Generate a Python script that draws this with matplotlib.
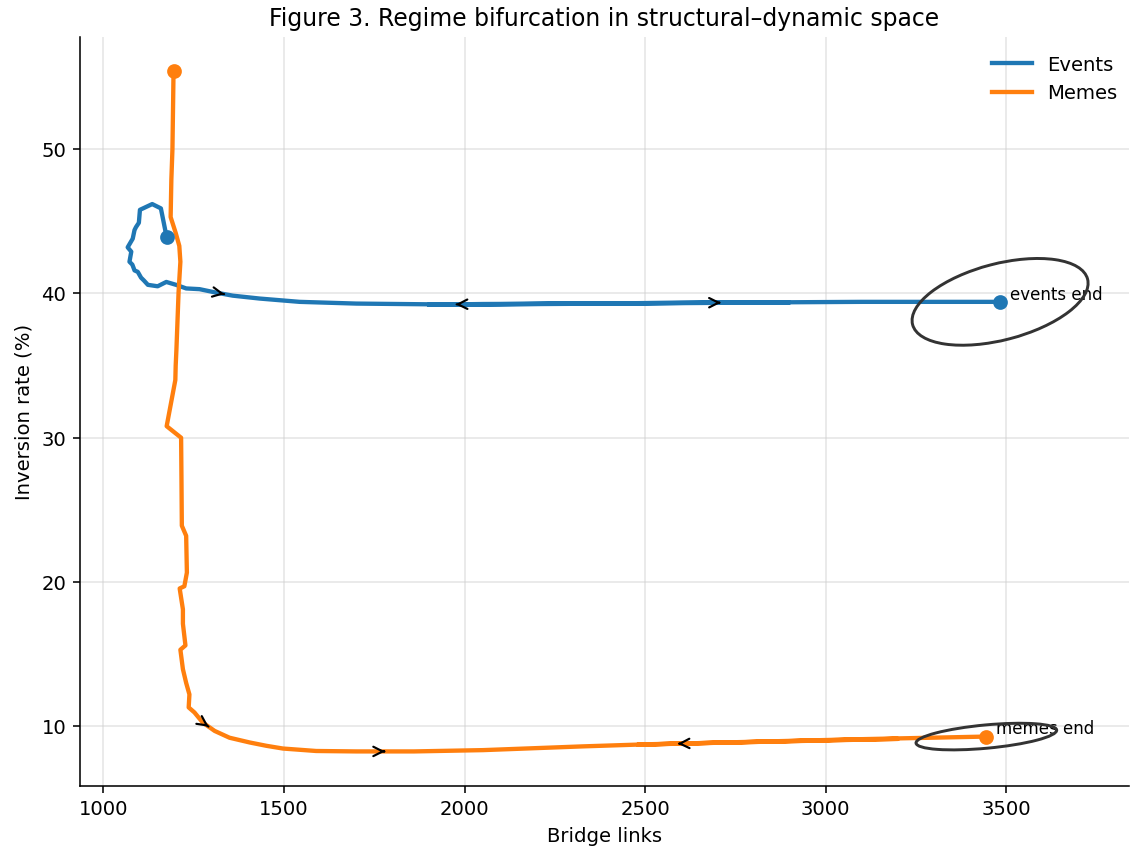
import matplotlib
matplotlib.use("Agg")
import matplotlib.pyplot as plt
from matplotlib.patches import Ellipse
from matplotlib import transforms

# trajectories in (bridge links, inversion rate %) space
events_x = [1175, 1159, 1135, 1101, 1098, 1090, 1086, 1081, 1067, 1077, 1072, 1080,
            1086, 1095, 1104, 1112, 1123, 1150, 1174, 1201, 1229, 1266, 1312, 1358,
            1432, 1543, 1700, 1900, 2100, 2400, 2700, 2900,
            2600, 2300, 2050, 1900,
            2200, 2600, 2820, 3100, 3483]
events_y = [43.9, 45.9, 46.2, 45.8, 44.9, 44.6, 44.4, 43.8, 43.2, 42.9, 42.2, 42.0,
            41.6, 41.5, 41.1, 40.9, 40.6, 40.5, 40.8, 40.6, 40.35, 40.3, 40.06, 39.85,
            39.65, 39.42, 39.3, 39.25, 39.25, 39.3, 39.35, 39.38,
            39.35, 39.3, 39.27, 39.22,
            39.28, 39.35, 39.38, 39.42, 39.42]

memes_x = [1194, 1193, 1191, 1188, 1186, 1200, 1210, 1213, 1208, 1202, 1200, 1199,
           1175, 1215, 1216, 1217, 1229, 1231, 1224, 1211, 1220, 1220, 1227, 1213,
           1220, 1229, 1238, 1236, 1252, 1275, 1308, 1349, 1405, 1451, 1497, 1589,
           1700, 1860, 2051, 2328, 2513, 2790, 3031, 3200,
           2700, 2480,
           2800, 3100, 3445]
memes_y = [55.4, 53.5, 50.0, 47.9, 45.3, 44.2, 43.3, 42.2, 40.1, 36.1, 35.0, 34.0,
           30.8, 30.0, 27.1, 23.9, 23.2, 20.65, 19.7, 19.55, 18.1, 17.1, 15.6, 15.3,
           13.95, 13.0, 12.2, 11.3, 10.95, 10.25, 9.67, 9.2, 8.87, 8.64, 8.45, 8.28,
           8.25, 8.25, 8.34, 8.6, 8.75, 8.9, 9.04, 9.12,
           8.85, 8.72,
           8.92, 9.1, 9.28]

# segments that get a direction arrow
events_arrows = [22, 34, 37]
memes_arrows = [29, 36, 44]

# uncertainty ellipses round the end points (inches, degrees)
events_ell = (1.28, 0.54, 14.6)
memes_ell = (1.0, 0.165, 5.3)

blue = "#1f77b4"
orange = "#ff7f0e"

fig, ax = plt.subplots(figsize=(8, 6), dpi=141.25)
fig.subplots_adjust(left=80 / 1130, right=1129 / 1130, top=1 - 38 / 848, bottom=1 - 787 / 848)


def add_arrows(xs, ys, idx):
    for i in idx:
        mx = (xs[i] + xs[i + 1]) / 2
        my = (ys[i] + ys[i + 1]) / 2
        tx = mx - 0.02 * (xs[i + 1] - xs[i])
        ty = my - 0.02 * (ys[i + 1] - ys[i])
        ax.annotate("", xy=(mx, my), xytext=(tx, ty),
                    arrowprops=dict(arrowstyle="->", color="black", lw=1.1,
                                    mutation_scale=12, shrinkA=0, shrinkB=0),
                    zorder=4)


def add_ellipse(x, y, spec):
    w, h, ang = spec
    tr = fig.dpi_scale_trans + transforms.ScaledTranslation(x, y, ax.transData)
    ax.add_patch(Ellipse((0, 0), w, h, angle=ang, fill=False, edgecolor="#333333",
                         lw=1.5, transform=tr, zorder=5))


ax.plot(events_x, events_y, color=blue, lw=2.2, label="Events", zorder=3)
ax.plot(memes_x, memes_y, color=orange, lw=2.2, label="Memes", zorder=3)

for xs, ys, c in [(events_x, events_y, blue), (memes_x, memes_y, orange)]:
    ax.plot([xs[0], xs[-1]], [ys[0], ys[-1]], "o", color=c, ms=6.5, zorder=4)

add_arrows(events_x, events_y, events_arrows)
add_arrows(memes_x, memes_y, memes_arrows)

add_ellipse(events_x[-1], events_y[-1], events_ell)
add_ellipse(memes_x[-1], memes_y[-1], memes_ell)

ax.annotate("events end", (events_x[-1], events_y[-1]), xytext=(5, 4),
            textcoords="offset points", fontsize=8.5, va="center", ha="left")
ax.annotate("memes end", (memes_x[-1], memes_y[-1]), xytext=(5, 4),
            textcoords="offset points", fontsize=8.5, va="center", ha="left")

ax.set_xlim(935, 3840)
ax.set_ylim(5.85, 57.75)
ax.set_xlabel("Bridge links")
ax.set_ylabel("Inversion rate (%)")
ax.set_title("Figure 3. Regime bifurcation in structural\u2013dynamic space", fontsize=12)
ax.grid(True, color="#cccccc", alpha=0.5, lw=0.8)
ax.spines["top"].set_visible(False)
ax.spines["right"].set_visible(False)
ax.legend(loc="upper right", frameon=False, fontsize=10, bbox_to_anchor=(1.006, 1.0))

fig.savefig("out.png", dpi=141.25)
